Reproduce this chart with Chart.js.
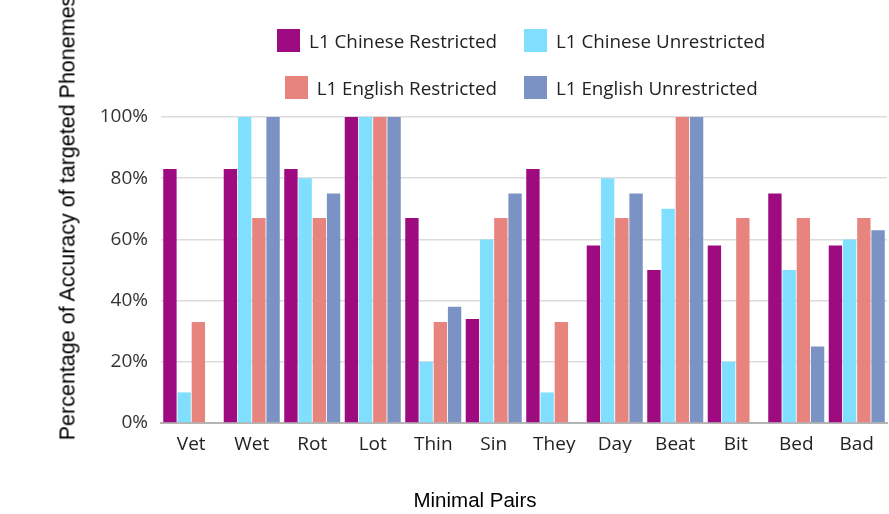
<!DOCTYPE html>
<html>
<head>
<meta charset="utf-8">
<script src="https://cdn.jsdelivr.net/npm/chart.js@4.4.1/dist/chart.umd.min.js"></script>
<style>
    html, body { margin: 0; padding: 0; background: #fff; overflow: hidden; }
    #wrap { position: relative; width: 889px; height: 514px; }
    #legend {
        position: absolute; top: 29px; left: 0; width: 889px;
        display: grid; grid-template-columns: 497px 1fr;
        column-gap: 27px; row-gap: 24px;
        font-family: 'Open Sans', sans-serif; font-size: 18.8px; color: #222;
    }
    #legend .item { display: flex; align-items: center; height: 23px; white-space: nowrap; }
    #legend .item.left { justify-self: end; }
    #legend .box { width: 23px; height: 23px; margin-right: 9px; box-sizing: border-box; }
    #ytitle {
        position: absolute; left: 68px; top: 218px;
        transform: translate(-50%, -50%) rotate(-90deg);
        font-family: 'Liberation Sans', Arial, sans-serif; font-size: 21.5px; color: #000;
        white-space: nowrap;
    }
    #xtitle {
        position: absolute; left: 475px; top: 500px;
        transform: translate(-50%, -50%);
        font-family: 'Liberation Sans', Arial, sans-serif; font-size: 20.5px; color: #000;
        white-space: nowrap;
    }
</style>
</head>
<body>
<div id="wrap">
    <canvas id="chart" width="889" height="514"></canvas>
    <div id="legend"></div>
    <div id="ytitle">Percentage of Accuracy of targeted Phonemes</div>
    <div id="xtitle">Minimal Pairs</div>
</div>
<script>
// Minimal pairs on the x axis
const categories = ['Vet', 'Wet', 'Rot', 'Lot', 'Thin', 'Sin', 'They', 'Day', 'Beat', 'Bit', 'Bed', 'Bad'];

// Accuracy (%) per group
const chineseRestricted   = [83, 83, 83, 100, 67, 34, 83, 58, 50, 58, 75, 58];
const chineseUnrestricted = [10, 100, 80, 100, 20, 60, 10, 80, 70, 20, 50, 60];
const englishRestricted   = [33, 67, 67, 100, 33, 67, 33, 67, 100, 67, 67, 67];
const englishUnrestricted = [0, 100, 75, 100, 38, 75, 0, 75, 100, 0, 25, 63];

const seriesNames = ['L1 Chinese Restricted', 'L1 Chinese Unrestricted', 'L1 English Restricted', 'L1 English Unrestricted'];
const seriesColors = ['#9e0a7f', '#80dfff', '#e8847e', '#7b92c4'];
const yTicks = [0, 20, 40, 60, 80, 100];

// Legend drawn as html, two items per row
const htmlLegend = {
    id: 'htmlLegend',
    afterUpdate(chart) {
        const el = document.getElementById('legend');
        el.innerHTML = '';
        chart.data.datasets.forEach((ds, i) => {
            const item = document.createElement('div');
            item.className = 'item' + (i % 2 === 0 ? ' left' : '');
            const box = document.createElement('span');
            box.className = 'box';
            box.style.background = ds.backgroundColor;
            const txt = document.createElement('span');
            txt.textContent = ds.label;
            item.appendChild(box);
            item.appendChild(txt);
            el.appendChild(item);
        });
    }
};

const allSeries = [chineseRestricted, chineseUnrestricted, englishRestricted, englishUnrestricted];

new Chart(document.getElementById('chart'), {
    type: 'bar',
    data: {
        labels: categories,
        datasets: allSeries.map((values, i) => ({
            label: seriesNames[i],
            data: values,
            backgroundColor: seriesColors[i],
            borderWidth: 0,
            categoryPercentage: 0.94,
            barPercentage: 0.94
        }))
    },
    options: {
        responsive: false,
        animation: false,
        layout: { padding: { top: 117, right: 2, bottom: 61, left: 0 } },
        plugins: {
            legend: { display: false },
            tooltip: { enabled: false }
        },
        scales: {
            x: {
                grid: { display: false, drawTicks: false },
                border: { display: true, color: '#b5b5b5', width: 2 },
                ticks: {
                    padding: 10,
                    color: '#222',
                    font: { family: 'Open Sans', size: 19 }
                },
                afterFit(scale) { scale.height = 30; }
            },
            y: {
                min: 0,
                max: 100,
                afterBuildTicks(scale) { scale.ticks = yTicks.map(v => ({ value: v })); },
                grid: { color: '#dcdcdc', lineWidth: 1.5, drawTicks: false },
                border: { display: false },
                ticks: {
                    padding: 13,
                    color: '#333',
                    font: { family: 'Open Sans', size: 19 },
                    callback: v => v + '%'
                },
                afterFit(scale) { scale.width = 161; }
            }
        }
    },
    plugins: [htmlLegend]
});
</script>
</body>
</html>
